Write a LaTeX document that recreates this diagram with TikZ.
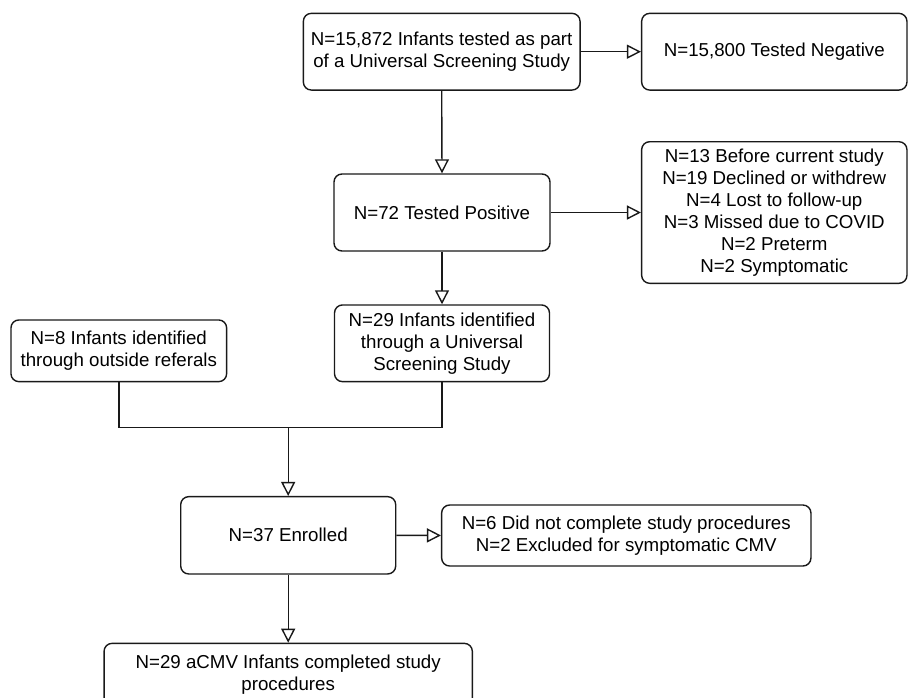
\documentclass[tikz,border=0pt]{standalone}
\usepackage{fontspec}
\setmainfont{Liberation Sans}
\usetikzlibrary{arrows.meta}
\begin{document}
\begin{tikzpicture}[x=1pt,y=-1pt,
  box/.style={draw=black!90, line width=1.4pt, rounded corners=8pt, align=center,
    inner sep=0pt, font=\fontsize{18.7}{22}\selectfont, text=black},
  conn/.style={draw=black!90, line width=1.4pt},
  arr/.style={conn, -{Triangle[open, length=14pt, width=14pt]}}]
\useasboundingbox (0,0) rectangle (908,697);
\node[box, minimum width=276.7pt, minimum height=76.7pt] (b1) at (441.7,51.7)
  {N=15,872 Infants tested as part\\of a Universal Screening Study};
\node[box, minimum width=265.3pt, minimum height=76.7pt] (b2) at (774.3,51.7)
  {N=15,800 Tested Negative};
\node[box, minimum width=216pt, minimum height=77pt] (b3) at (442,212.5)
  {N=72 Tested Positive};
\node[box, minimum width=265.3pt, minimum height=141.6pt] (b4) at (774.3,212.5)
  {N=13 Before current study\\N=19 Declined or withdrew\\N=4 Lost to follow-up\\N=3 Missed due to COVID\\N=2 Preterm\\N=2 Symptomatic};
\node[box, minimum width=215pt, minimum height=76.7pt] (b5) at (442,343.3)
  {N=29 Infants identified\\through a Universal\\Screening Study};
\node[box, minimum width=215.7pt, minimum height=61.7pt] (b6) at (118.8,350.8)
  {N=8 Infants identified\\through outside referals};
\node[box, minimum width=215pt, minimum height=77.3pt] (b7) at (288.2,535.3)
  {N=37 Enrolled};
\node[box, minimum width=369.3pt, minimum height=61pt] (b8) at (626.3,535.5)
  {N=6 Did not complete study procedures\\N=2 Excluded for symptomatic CMV};
\node[box, minimum width=368.3pt, minimum height=62.7pt] (b9) at (288.2,674.7)
  {N=29 aCMV Infants completed study\\procedures};
\coordinate (m) at (288.2,427.7);
\draw[arr] (b1) -- (b2);
\draw[arr] (b1.south) -- (b3.north);
\draw[arr] (b3) -- (b4);
\draw[arr] (b3.south) -- (b5.north);
\draw[conn] (b6.south) |- (m);
\draw[conn] (b5.south) |- (m);
\draw[arr] (m) -- (b7.north);
\draw[arr] (b7) -- (b8);
\draw[arr] (b7.south) -- (b9.north);
\end{tikzpicture}
\end{document}
